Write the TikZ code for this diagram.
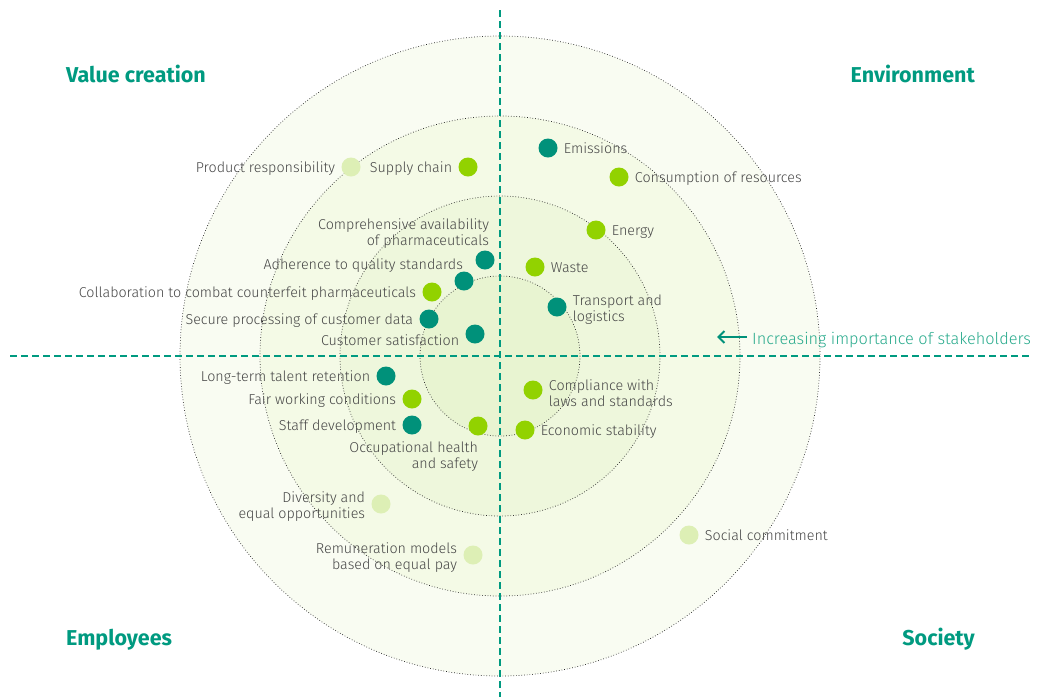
\documentclass[tikz,border=0pt]{standalone}
\usepackage{fontspec}
\setmainfont{Fira Sans}[UprightFont={* Light}, BoldFont={* Bold}]
\usepackage{tikz}
\usetikzlibrary{arrows.meta,positioning}

\definecolor{custcol_0_91_7a}{RGB}{0, 145, 122}
\definecolor{custcol_0_9a_80}{RGB}{0, 154, 128}
\definecolor{custcol_28_aa_8c}{RGB}{40, 170, 140}
\definecolor{custcol_92_d2_0}{RGB}{146, 210, 0}
\definecolor{custcol_dd_ef_b5}{RGB}{221, 239, 181}
\definecolor{custcol_46_46_46}{RGB}{70, 70, 70}
\definecolor{custcol_f9_fc_f2}{RGB}{249, 252, 242}
\definecolor{custcol_f4_fa_e6}{RGB}{244, 250, 230}
\definecolor{custcol_ee_f7_dc}{RGB}{238, 247, 220}
\definecolor{custcol_e8_f4_d1}{RGB}{232, 244, 209}

\tikzset{
  ring/.style={fill=#1},
  ringline/.style={draw=black!85, line width=0.7pt, dotted},
  axis/.style={custcol_0_9a_80, line width=1.6pt, dash pattern=on 7pt off 4pt},
  dot/.style={circle, fill=#1, inner sep=0pt, minimum size=19pt},
  lbl/.style={inner sep=0pt, yshift=-3pt, custcol_46_46_46, font=\fontsize{14.3pt}{16pt}\selectfont},
  heading/.style={inner sep=0pt, custcol_0_9a_80, font=\fontsize{21.5pt}{21.5pt}\bfseries\selectfont},
  node distance=6pt
}

\begin{document}
\begin{tikzpicture}[x=1pt,y=-1pt]
	\useasboundingbox (0,0) rectangle (1040,697);
	% rings of importance
	\coordinate (centre) at (500,356);
	\fill[ring=custcol_f9_fc_f2] (centre) circle (320);
	\fill[ring=custcol_f4_fa_e6] (centre) circle (240);
	\fill[ring=custcol_ee_f7_dc] (centre) circle (160);
	\fill[ring=custcol_e8_f4_d1] (centre) circle (80);
	\foreach \r in {80,160,240,320}
		\draw[ringline] (centre) circle (\r);
	% quadrant axes
	\draw[axis] (500,10) -- (500,697);
	\draw[axis] (10,356) -- (1032,356);
	% quadrant headings
	\node[heading, anchor=base west] at (66,82) {Value creation};
	\node[heading, anchor=base east] at (975,82) {Environment};
	\node[heading, anchor=base west] at (66,645) {Employees};
	\node[heading, anchor=base east] at (975,645) {Society};
	% importance arrow
	\node[lbl, custcol_28_aa_8c, anchor=mid west, font=\fontsize{16.3pt}{18pt}\selectfont] (importance) at (752,339) {Increasing importance of stakeholders};
	\coordinate (arrowend) at (717,337);
	\draw[custcol_0_91_7a, line width=2pt, -{Straight Barb[length=6pt,width=12pt,line width=2pt]}] (747,337) -- (arrowend);
	% value creation
	\node[dot=custcol_dd_ef_b5] (product) at (351,167) {};
	\node[lbl, left=of product, anchor=mid east] {Product responsibility};
	\node[dot=custcol_92_d2_0] (supply) at (468,167) {};
	\node[lbl, left=of supply, anchor=mid east] {Supply chain};
	\node[dot=custcol_0_91_7a] (availability) at (485,260) {};
	\node[lbl, align=right, above left=8pt and -11pt of availability] {Comprehensive availability\\of pharmaceuticals};
	\node[dot=custcol_0_91_7a] (quality) at (464,281) {};
	\node[lbl, above left=5pt and -6pt of quality] {Adherence to quality standards};
	\node[dot=custcol_92_d2_0] (counterfeit) at (432,292) {};
	\node[lbl, left=of counterfeit, anchor=mid east] {Collaboration to combat counterfeit pharmaceuticals};
	\node[dot=custcol_0_91_7a] (customerdata) at (429,319) {};
	\node[lbl, left=of customerdata, anchor=mid east] {Secure processing of customer data};
	\node[dot=custcol_0_91_7a] (satisfaction) at (475,334) {};
	\node[lbl, left=of satisfaction, anchor=mid east, yshift=-6pt] {Customer satisfaction};
	% environment
	\node[dot=custcol_0_91_7a] (emissions) at (548,148) {};
	\node[lbl, right=of emissions, anchor=mid west] {Emissions};
	\node[dot=custcol_92_d2_0] (resources) at (619,177) {};
	\node[lbl, right=of resources, anchor=mid west] {Consumption of resources};
	\node[dot=custcol_92_d2_0] (energy) at (596,230) {};
	\node[lbl, right=of energy, anchor=mid west] {Energy};
	\node[dot=custcol_92_d2_0] (waste) at (535,267) {};
	\node[lbl, right=of waste, anchor=mid west] {Waste};
	\node[dot=custcol_0_91_7a] (transport) at (557,307) {};
	\node[lbl, align=left, right=of transport] {Transport and\\logistics};
	% employees
	\node[dot=custcol_0_91_7a] (talent) at (386,376) {};
	\node[lbl, left=of talent, anchor=mid east] {Long-term talent retention};
	\node[dot=custcol_92_d2_0] (working) at (412,399) {};
	\node[lbl, left=of working, anchor=mid east] {Fair working conditions};
	\node[dot=custcol_0_91_7a] (staff) at (412,425) {};
	\node[lbl, left=of staff, anchor=mid east] {Staff development};
	\node[dot=custcol_92_d2_0] (health) at (478,426) {};
	\node[lbl, align=right, below left=6pt and -7pt of health] {Occupational health\\and safety};
	\node[dot=custcol_dd_ef_b5] (diversity) at (381,504) {};
	\node[lbl, align=right, left=of diversity] {Diversity and\\equal opportunities};
	\node[dot=custcol_dd_ef_b5] (remuneration) at (473,555) {};
	\node[lbl, align=right, left=of remuneration] {Remuneration models\\based on equal pay};
	% society
	\node[dot=custcol_92_d2_0] (compliance) at (533,390) {};
	\node[lbl, align=left, right=of compliance] {Compliance with\\laws and standards};
	\node[dot=custcol_92_d2_0] (economic) at (525,430) {};
	\node[lbl, right=of economic, anchor=mid west] {Economic stability};
	\node[dot=custcol_dd_ef_b5] (social) at (689,535) {};
	\node[lbl, right=of social, anchor=mid west] {Social commitment};
\end{tikzpicture}
\end{document}
